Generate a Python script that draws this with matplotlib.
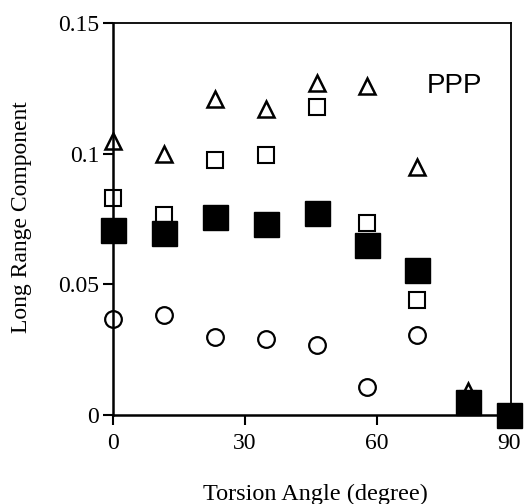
import matplotlib.pyplot as plt

# torsion angles (degree)
angle = [0, 11.6, 23.2, 34.8, 46.4, 57.7, 69.1, 80.7, 90]

# long range components
tri = [0.105, 0.100, 0.121, 0.117, 0.127, 0.126, 0.095, 0.009, 0.0]
sq_open = [0.083, 0.0765, 0.0975, 0.0995, 0.118, 0.0735, 0.044, 0.006, 0.0]
sq_fill = [0.0708, 0.0697, 0.0758, 0.0730, 0.0773, 0.0650, 0.0555, 0.005, 0.0]
circ = [0.0367, 0.0383, 0.0298, 0.0290, 0.0268, 0.0107, 0.0306, 0.004, 0.0]

plt.rcParams['font.family'] = 'Liberation Serif'

fig = plt.figure(figsize=(5.24, 5.04), dpi=100)
ax = fig.add_axes([0.2157, 0.1766, 0.7593, 0.7774])

ax.plot(angle, circ, 'o', ms=12, mfc='white', mec='black', mew=1.6, clip_on=False)
ax.plot(angle, tri, '^', ms=12, mfc='white', mec='black', mew=1.8, clip_on=False)
ax.plot(angle, sq_open, 's', ms=12, mfc='white', mec='black', mew=1.5, clip_on=False)
ax.plot(angle, sq_fill, 's', ms=18, mfc='black', mec='black', clip_on=False)

ax.set_xlim(0, 90.5)
ax.set_ylim(0, 0.15)
ax.set_xticks([0, 30, 60, 90])
ax.set_yticks([0, 0.05, 0.1, 0.15])
ax.set_yticklabels(['0', '0.05', '0.1', '0.15'])
ax.tick_params(direction='out', length=7, width=1.5, labelsize=17)
ax.tick_params(axis='x', pad=6)
ax.tick_params(axis='y', pad=3)
for s in ax.spines.values():
    s.set_linewidth(1.3)
ax.spines['left'].set_linewidth(1.8)
ax.spines['bottom'].set_linewidth(1.8)

ax.set_xlabel('Torsion Angle (degree)', fontsize=17.5, va='baseline')
ax.xaxis.set_label_coords(0.508, -0.217)
ax.set_ylabel('Long Range Component', fontsize=17, va='center')
ax.yaxis.set_label_coords(-0.229, 0.505)

ax.text(0.857, 0.84, 'PPP', transform=ax.transAxes, fontsize=20,
        family='Liberation Sans', ha='center', va='center')

fig.savefig('out.png', dpi=100)
